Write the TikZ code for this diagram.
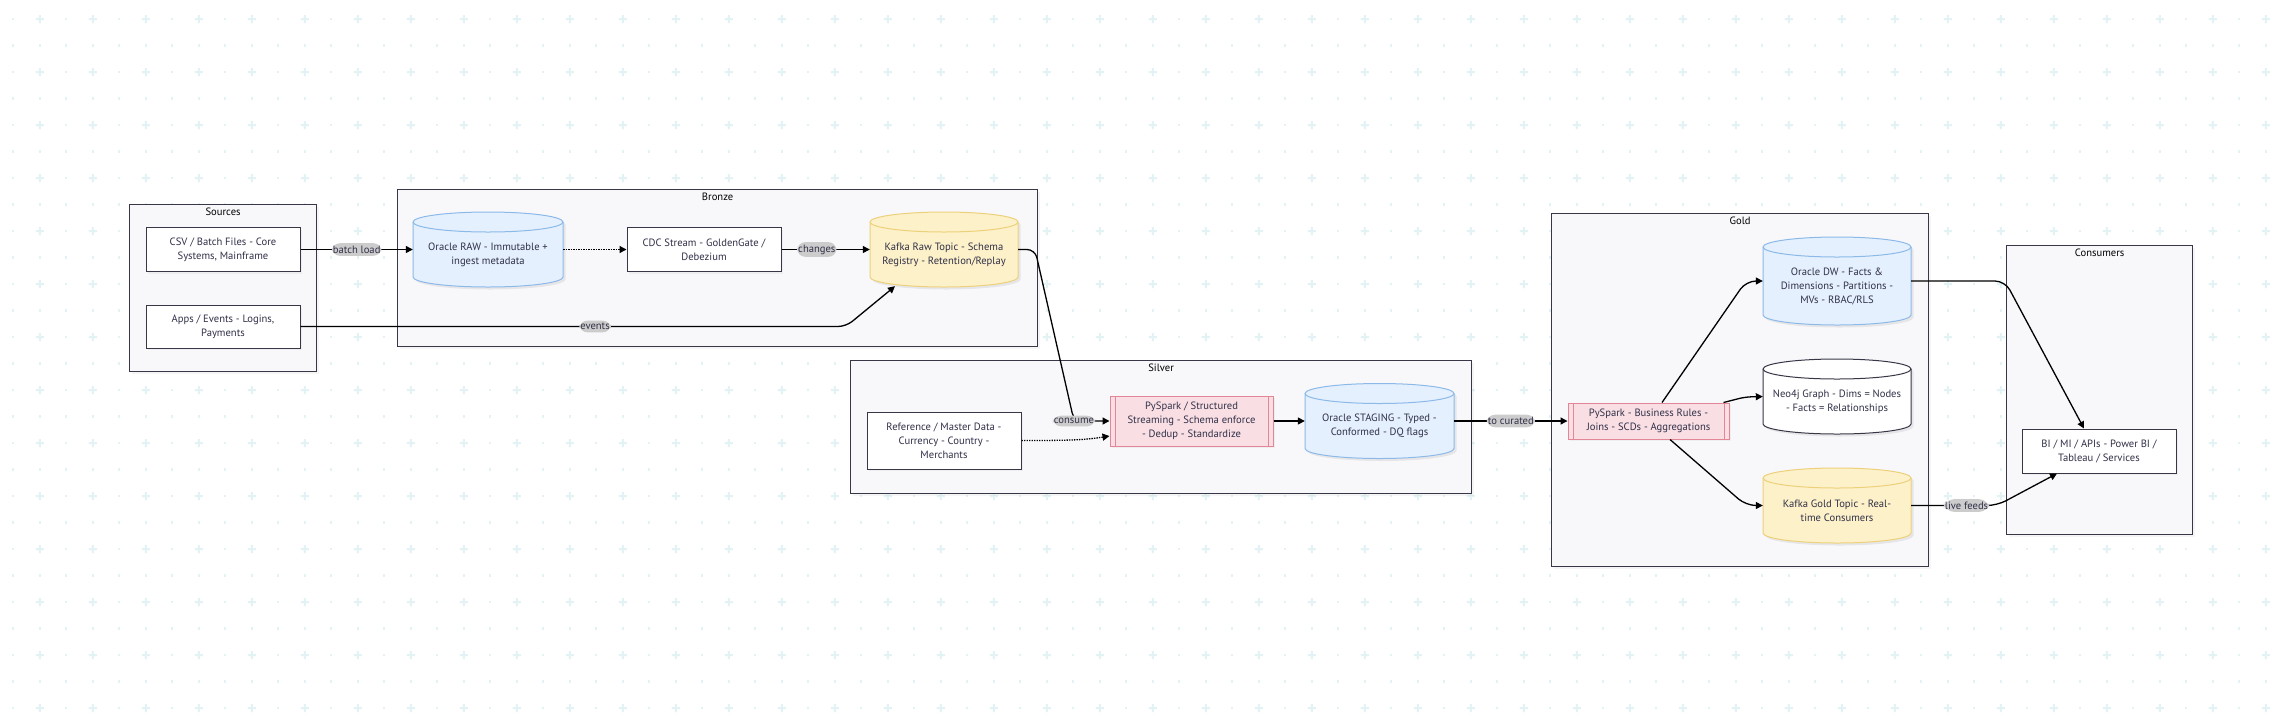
\documentclass[tikz,border=0pt]{standalone}
\usepackage{fontspec}
\setmainfont{PT Sans}
\usetikzlibrary{arrows.meta,calc,shadows}
\definecolor{gridc}{RGB}{226,242,245}
\definecolor{contfill}{RGB}{248,248,251}
\definecolor{bord}{RGB}{55,55,72}
\definecolor{txt}{RGB}{48,48,72}
\definecolor{bluefill}{RGB}{228,240,253}
\definecolor{bluedraw}{RGB}{140,185,232}
\definecolor{yelfill}{RGB}{253,241,201}
\definecolor{yeldraw}{RGB}{236,208,122}
\definecolor{pinkfill}{RGB}{249,223,228}
\definecolor{pinkdraw}{RGB}{226,134,152}
\definecolor{lblfill}{RGB}{204,204,204}
\newcommand\cylnode[8]{%
  \pgfmathsetmacro\cxa{#2-#4/2}\pgfmathsetmacro\cxb{#2+#4/2}%
  \pgfmathsetmacro\cyt{#3-#5/2+10}\pgfmathsetmacro\cyb{#3+#5/2-10}%
  \pgfmathsetmacro\crx{#4/2}%
  \fill[black,opacity=0.07] (\cxa+2.5,\cyt+2.5) -- (\cxa+2.5,\cyb+2.5) arc[start angle=180,end angle=360,x radius=\crx*1pt,y radius=10pt] -- (\cxb+2.5,\cyt+2.5) arc[start angle=0,end angle=180,x radius=\crx*1pt,y radius=10pt] -- cycle;
  \path[fill=#6,draw=#7,line width=1pt] (\cxa,\cyt) -- (\cxa,\cyb) arc[start angle=180,end angle=360,x radius=\crx*1pt,y radius=10pt] -- (\cxb,\cyt) arc[start angle=0,end angle=180,x radius=\crx*1pt,y radius=10pt] -- cycle;
  \draw[#7,line width=1pt] (\cxa,\cyt) arc[start angle=180,end angle=360,x radius=\crx*1pt,y radius=10pt];
  \node[minimum width=#4pt, minimum height=#5pt, inner sep=0pt] (#1) at (#2,#3) {};
  \node[align=center, inner sep=0pt] (#1-t) at (#2,#3+5) {#8};
}
\begin{document}
\begin{tikzpicture}[x=1pt,y=-1pt,
  every node/.style={font=\fontsize{10.6}{14}\selectfont, text=txt},
  cont/.style={draw=bord, fill=contfill, line width=1.2pt, anchor=north west, inner sep=0pt,
    drop shadow={shadow xshift=2pt, shadow yshift=-2pt, opacity=0.08}},
  ttl/.style={font=\fontsize{10.6}{12}\selectfont, text=black},
  box/.style={draw=bord, fill=white, line width=1pt, align=center, inner sep=0pt,
    drop shadow={shadow xshift=2pt, shadow yshift=-2pt, opacity=0.08}},
  proc/.style={draw=pinkdraw, fill=pinkfill, line width=1pt, align=center, inner sep=0pt,
    drop shadow={shadow xshift=2pt, shadow yshift=-2pt, opacity=0.08},
    path picture={\draw[pinkdraw,line width=1pt]
      ([xshift=5pt]path picture bounding box.north west) -- ([xshift=5pt]path picture bounding box.south west)
      ([xshift=-5pt]path picture bounding box.north east) -- ([xshift=-5pt]path picture bounding box.south east);}},
  lbl/.style={fill=lblfill, inner xsep=1pt, inner ysep=2.5pt, text=txt},
  conn/.style={line width=1.3pt, black, -{Triangle[length=7pt,width=7pt]}, rounded corners=8pt},
  dots/.style={dash pattern=on 1.4pt off 1.1pt}
]
\useasboundingbox (0,0) rectangle (2274,713);
\fill[white] (0,0) rectangle (2274,713);
% background grid
\foreach \i in {0,...,85}{\foreach \j in {0,...,26}{%
  \pgfmathsetmacro\gx{13.3+26.5*\i}\pgfmathsetmacro\gy{19+26.5*\j}%
  \pgfmathtruncatemacro\cr{and(mod(\i,2)==1,mod(\j,2)==0)}%
  \ifnum\cr=1
    \fill[gridc] (\gx-4,\gy-1) rectangle (\gx+4,\gy+1) (\gx-1,\gy-4) rectangle (\gx+1,\gy+4);
  \else
    \fill[gridc] (\gx-1.1,\gy-1.1) rectangle (\gx+1.1,\gy+1.1);
  \fi}}
% containers
\node[cont, minimum width=187pt, minimum height=167pt] (sources) at (129,204) {};
\node[ttl] (sources-t) at ($(sources.north)+(0,7.5)$) {Sources};
\node[cont, minimum width=640pt, minimum height=157pt] (bronze) at (397,189) {};
\node[ttl] (bronze-t) at ($(bronze.north)+(0,7.5)$) {Bronze};
\node[cont, minimum width=621pt, minimum height=133pt] (silver) at (850,360) {};
\node[ttl] (silver-t) at ($(silver.north)+(0,7.5)$) {Silver};
\node[cont, minimum width=377pt, minimum height=353pt] (gold) at (1551,213) {};
\node[ttl] (gold-t) at ($(gold.north)+(0,7.5)$) {Gold};
\node[cont, minimum width=186pt, minimum height=289pt] (consumers) at (2006,245) {};
\node[ttl] (consumers-t) at ($(consumers.north)+(0,7.5)$) {Consumers};
% sources
\node[box, minimum width=154pt, minimum height=44pt] (csv) at (223,249.5) {CSV / Batch Files - Core\\Systems, Mainframe};
\node[box, minimum width=154pt, minimum height=43pt] (apps) at (223,326.5) {Apps / Events - Logins,\\Payments};
% bronze
\cylnode{oraw}{488}{249.5}{150}{75}{bluefill}{bluedraw}{Oracle RAW - Immutable +\\ingest metadata}
\node[box, minimum width=154pt, minimum height=44pt] (cdc) at (704,249.5) {CDC Stream - GoldenGate /\\Debezium};
\cylnode{kraw}{944}{249.5}{148}{75}{yelfill}{yeldraw}{Kafka Raw Topic - Schema\\Registry - Retention/Replay}
% silver
\node[box, minimum width=154pt, minimum height=57pt] (ref) at (944,440.5) {Reference / Master Data -\\Currency - Country -\\Merchants};
\node[proc, minimum width=163pt, minimum height=50pt] (pys) at (1191.5,421) {PySpark / Structured\\Streaming - Schema enforce\\- Dedup - Standardize};
\cylnode{stg}{1379.5}{421}{149}{75}{bluefill}{bluedraw}{Oracle STAGING - Typed -\\Conformed - DQ flags}
% gold
\node[proc, minimum width=161pt, minimum height=36pt] (pyg) at (1648.5,421) {PySpark - Business Rules -\\Joins - SCDs - Aggregations};
\cylnode{dw}{1837}{281}{148}{88}{bluefill}{bluedraw}{Oracle DW - Facts \&\\Dimensions - Partitions -\\MVs - RBAC/RLS}
\cylnode{neo}{1837}{396.5}{148}{75}{white}{bord}{Neo4j Graph - Dims = Nodes\\- Facts = Relationships}
\cylnode{kg}{1837}{505.5}{148}{75}{yelfill}{yeldraw}{Kafka Gold Topic - Real-\\time Consumers}
% consumers
\node[box, minimum width=154pt, minimum height=44pt] (bi) at (2099,451) {BI / MI / APIs - Power BI /\\Tableau / Services};
% connectors
\draw[conn] (csv.east) -- node[lbl]{batch load} (oraw.west);
\draw[conn, dots] (oraw.east) -- (cdc.west);
\draw[conn] (cdc.east) -- node[lbl, pos=0.4]{changes} (kraw.west);
\draw[conn] (apps.east) -- node[lbl, pos=0.54]{events} (846,326.5) -- ($(kraw.south)+(-49,-1)$);
\draw[conn] (kraw.east) -- (1035,249.5) -- (1074,421) node[lbl]{consume} -- (pys.west);
\draw[conn, dots, rounded corners=0pt] (ref.east) .. controls +(50,0) and +(-25,4) .. ($(pys.west)+(0,15)$);
\draw[conn] (pys.east) -- (stg.west);
\draw[conn] (stg.east) -- node[lbl]{to curated} (pyg.west);
\draw[conn, rounded corners=10pt] ($(pyg.north)+(13.5,0)$) -- (1746,281) -- (dw.west);
\draw[conn, rounded corners=6pt] ($(pyg.north east)+(-6,0)$) -- (1745,397) -- (neo.west);
\draw[conn, rounded corners=10pt] ($(pyg.south)+(21.5,0)$) -- (1746,505.5) -- (kg.west);
\draw[conn, rounded corners=10pt] (dw.east) -- (2005,281) -- ($(bi.north)+(-15,0)$);
\draw[conn, rounded corners=10pt] (kg.east) -- node[lbl, pos=0.645]{live feeds} (1997,505.5) -- ($(bi.south)+(-42,0)$);
\end{tikzpicture}
\end{document}
